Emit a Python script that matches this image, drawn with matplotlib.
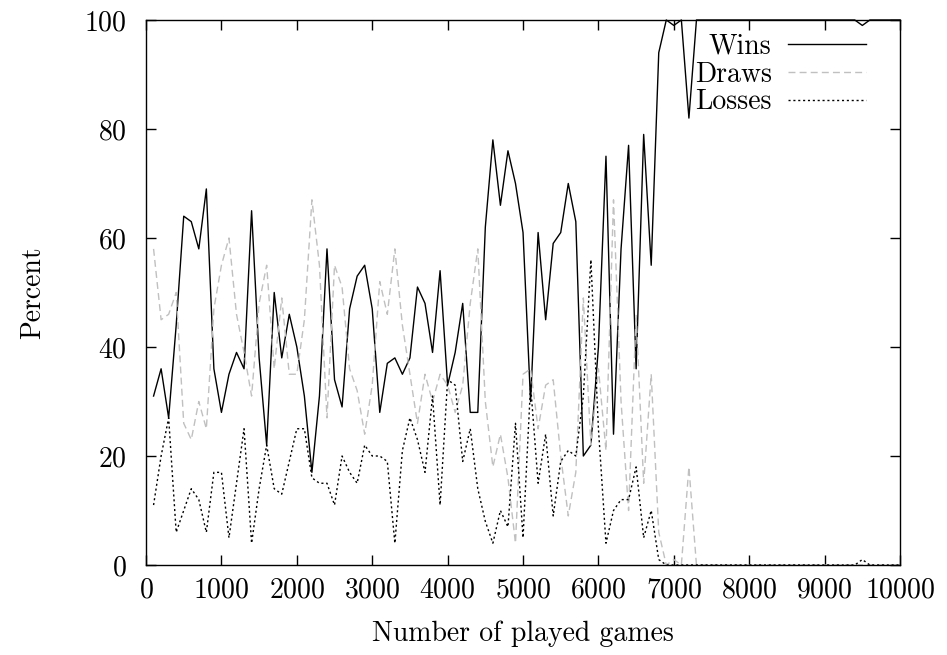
import matplotlib
matplotlib.use("Agg")
import matplotlib.pyplot as plt

# Style: gnuplot/LaTeX look (Computer Modern)
plt.rcParams["font.family"] = "cmr10"
plt.rcParams["axes.formatter.use_mathtext"] = True
plt.rcParams["font.size"] = 20

# Data (one point every 100 games)
games = [100 * k for k in range(1, 101)]

wins = [31, 36, 27, 44, 64, 63, 58, 69, 36, 28,
        35, 39, 36, 65, 38, 22, 50, 38, 46, 40,
        31, 17, 31, 58, 34, 29, 47, 53, 55, 47,
        28, 37, 38, 35, 38, 51, 48, 39, 54, 33,
        39, 48, 28, 28, 62, 78, 66, 76, 70, 61,
        30, 61, 45, 59, 61, 70, 63, 20, 22, 40,
        75, 24, 58, 77, 36, 79, 55, 94, 100, 99,
        100, 82, 100, 100, 100, 100, 100, 100, 100, 100,
        100, 100, 100, 100, 100, 100, 100, 100, 100, 100,
        100, 100, 100, 100, 99, 100, 100, 100, 100, 100]

draws = [58, 45, 46, 50, 26, 23, 30, 25, 47, 55,
         60, 46, 39, 31, 48, 55, 36, 49, 35, 35,
         45, 67, 55, 27, 55, 51, 36, 32, 24, 33,
         52, 46, 58, 44, 35, 26, 35, 30, 35, 33,
         28, 33, 48, 58, 30, 18, 24, 16, 4, 35,
         36, 25, 33, 34, 20, 9, 17, 49, 22, 36,
         21, 67, 30, 10, 46, 15, 35, 6, 0, 1,
         0, 18, 0, 0, 0, 0, 0, 0, 0, 0,
         0, 0, 0, 0, 0, 0, 0, 0, 0, 0,
         0, 0, 0, 0, 0, 0, 0, 0, 0, 0]

losses = [11, 20, 27, 6, 10, 14, 12, 6, 17, 17,
          5, 15, 25, 4, 14, 22, 14, 13, 19, 25,
          25, 16, 15, 15, 11, 20, 17, 15, 22, 20,
          20, 19, 4, 21, 27, 23, 17, 31, 11, 34,
          33, 19, 25, 14, 8, 4, 10, 7, 26, 5,
          33, 15, 24, 9, 19, 21, 20, 31, 56, 25,
          4, 10, 12, 12, 18, 5, 10, 1, 0, 0,
          0, 0, 0, 0, 0, 0, 0, 0, 0, 0,
          0, 0, 0, 0, 0, 0, 0, 0, 0, 0,
          0, 0, 0, 0, 1, 0, 0, 0, 0, 0]

fig = plt.figure(figsize=(9.47, 6.55), dpi=100)
ax = fig.add_axes([0.1542, 0.1374, 0.7962, 0.8321])

ax.plot(games, wins, color="black", lw=1.0, label="Wins", clip_on=False)
ax.plot(games, draws, color="#c0c0c0", lw=1.0, dashes=(5, 3), label="Draws")
ax.plot(games, losses, color="black", lw=1.0, dashes=(1.5, 2), label="Losses")

ax.set_xlim(0, 10000)
ax.set_ylim(0, 100)
ax.set_xticks(range(0, 10001, 1000))
ax.set_yticks(range(0, 101, 20))
ax.tick_params(direction="in", length=7, width=1, top=True, right=True)
ax.tick_params(axis="x", pad=9)
ax.tick_params(axis="y", pad=14)
for s in ax.spines.values():
    s.set_linewidth(1.0)

ax.set_xlabel("Number of played games", labelpad=12)
ax.set_ylabel("Percent", labelpad=27)

ax.legend(loc="upper right", bbox_to_anchor=(0.955, 0.975), frameon=False,
          markerfirst=False, handlelength=2.8, handletextpad=0.6,
          labelspacing=0.05, borderpad=0.0, borderaxespad=0.0)

plt.savefig("out.png", dpi=100)
plt.close()
